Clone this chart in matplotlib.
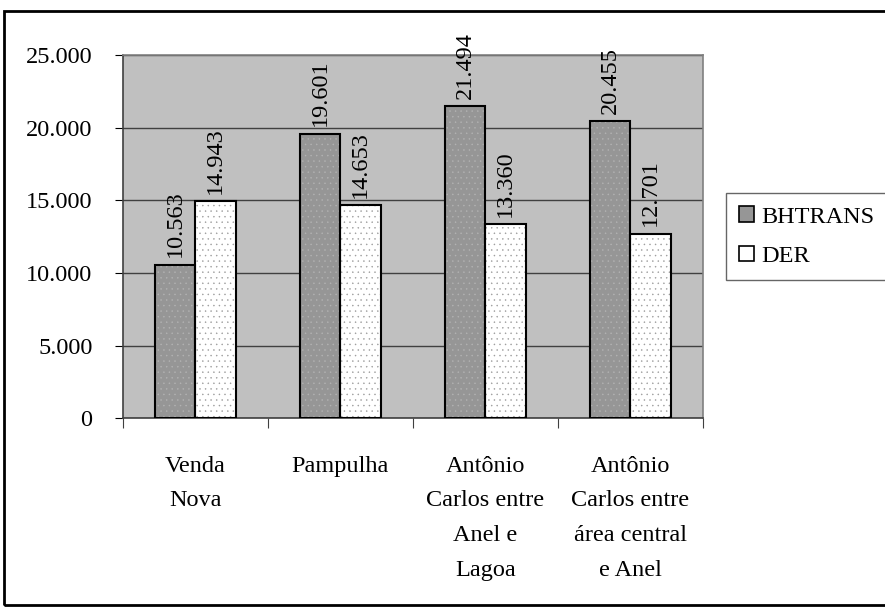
import numpy as np
import matplotlib
matplotlib.use("Agg")
import matplotlib.pyplot as plt
from matplotlib.patches import Rectangle

plt.rcParams["font.family"] = ["Liberation Serif", "DejaVu Serif"]
plt.rcParams["hatch.linewidth"] = 0.3

categories = ["Venda\nNova", "Pampulha", "Antônio\nCarlos entre\nAnel e\nLagoa",
              "Antônio\nCarlos entre\nárea central\ne Anel"]
bhtrans = [10563, 19601, 21494, 20455]
der = [14943, 14653, 13360, 12701]
series_names = ["BHTRANS", "DER"]

FS = 17.5

fig = plt.figure(figsize=(8.85, 6.07), dpi=100)
ax = fig.add_axes([0.139, 0.311, 0.655, 0.598])
ax.set_facecolor("#C0C0C0")

x = np.arange(len(categories))
w = 0.28


def fmt(v):
    return f"{v:,}".replace(",", ".")


def draw(xpos, vals, face, dotcol):
    # dotted fill first, then a plain black outline on top
    ax.bar(xpos, vals, w, color=face, edgecolor=dotcol, hatch="...", lw=0, zorder=3)
    ax.bar(xpos, vals, w, fill=False, edgecolor="black", lw=1.5, zorder=4)
    for xi, v in zip(xpos, vals):
        ax.annotate(fmt(v), (xi, v), xytext=(0, 5.5), textcoords="offset points",
                    rotation=90, ha="center", va="bottom", fontsize=FS)
    return Rectangle((0, 0), 1, 1, facecolor=face, edgecolor="black", lw=1.2)


h1 = draw(x - w / 2, bhtrans, "#969696", "#B4B4B4")
h2 = draw(x + w / 2, der, "white", "#9A9A9A")

ax.set_xlim(-0.5, len(categories) - 0.5)
ax.set_ylim(0, 25000)
ax.set_yticks(np.arange(0, 25001, 5000))
ax.set_yticklabels([fmt(v) for v in range(0, 25001, 5000)], fontsize=FS)
ax.yaxis.grid(True, color="#404040", lw=1)
ax.set_axisbelow(True)

ax.set_xticks(np.arange(-0.5, len(categories)), labels=[""] * (len(categories) + 1))
ax.set_xticks(x, labels=categories, minor=True)
ax.tick_params(axis="x", which="minor", length=0, pad=27, labelsize=FS)
ax.tick_params(axis="x", which="major", length=7, color="#404040")
ax.tick_params(axis="y", length=6, pad=16)
for lbl in ax.get_xticklabels(minor=True):
    lbl.set_linespacing(1.85)

for s in ["top", "right"]:
    ax.spines[s].set_color("#808080")
ax.spines["left"].set_color("#404040")
ax.spines["bottom"].set_color("#404040")
for s in ax.spines.values():
    s.set_linewidth(1.2)

leg = ax.legend([h1, h2], series_names, loc="center left", bbox_to_anchor=(1.04, 0.5),
                fontsize=FS, frameon=True, fancybox=False, edgecolor="#404040",
                handlelength=0.6, handleheight=0.6, handletextpad=0.3,
                borderpad=0.55, labelspacing=0.75, borderaxespad=0)
leg.get_frame().set_linewidth(1.0)

fig.patches.append(Rectangle((0.005, 0.004), 1.2, 0.978, transform=fig.transFigure,
                             fill=False, edgecolor="black", lw=2))

fig.savefig("out.png", dpi=100)
